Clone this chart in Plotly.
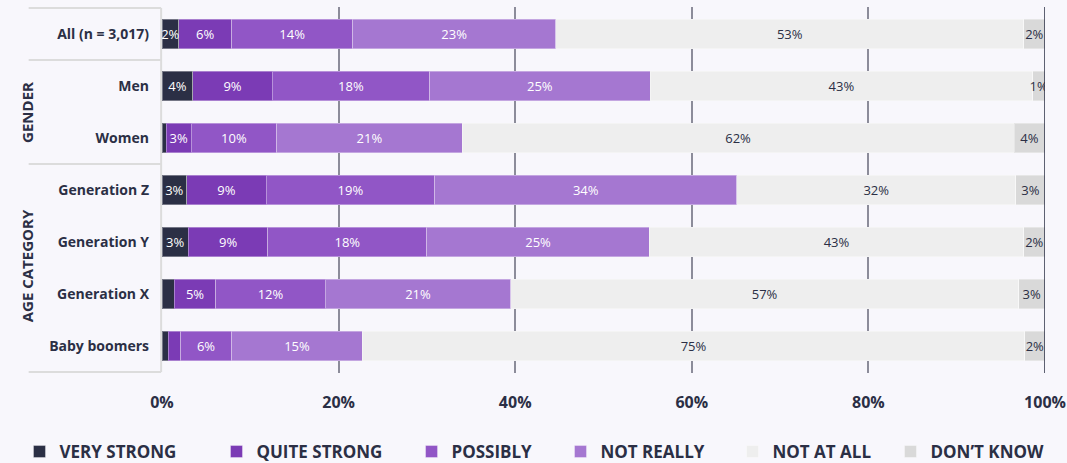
import plotly.graph_objects as go

categories = ["All (n = 3,017)", "Men", "Women", "Generation Z", "Generation Y", "Generation X", "Baby boomers"]
series_names = ["VERY STRONG", "QUITE STRONG", "POSSIBLY", "NOT REALLY", "NOT AT ALL", "DON\u2019T KNOW"]

very_strong = [1.9, 3.5, 0.5, 2.8, 3.0, 1.4, 0.7]
quite_strong = [6.0, 9.0, 2.8, 9.0, 9.0, 4.7, 1.4]
possibly = [13.7, 17.8, 9.7, 19.1, 18.0, 12.4, 5.8]
not_really = [23.0, 25.0, 21.0, 34.2, 25.2, 21.0, 14.8]
not_at_all = [53.0, 43.3, 62.5, 31.6, 42.4, 57.5, 75.0]
dont_know = [2.4, 1.4, 3.5, 3.3, 2.4, 3.0, 2.3]

labels_very_strong = ["2%", "4%", "", "3%", "3%", "", ""]
labels_quite_strong = ["6%", "9%", "3%", "9%", "9%", "5%", ""]
labels_possibly = ["14%", "18%", "10%", "19%", "18%", "12%", "6%"]
labels_not_really = ["23%", "25%", "21%", "34%", "25%", "21%", "15%"]
labels_not_at_all = ["53%", "43%", "62%", "32%", "43%", "57%", "75%"]
labels_dont_know = ["2%", "1%", "4%", "3%", "2%", "3%", "2%"]

x_ticks = [0, 20, 40, 60, 80, 100]
x_tick_labels = ["0%", "20%", "40%", "60%", "80%", "100%"]

colors = ["#2b2f45", "#7b3bb5", "#9156c6", "#a577d1", "#eeeeee", "#d9d9d9"]
text_colors = ["#ffffff", "#ffffff", "#ffffff", "#ffffff", "#2b2f45", "#2b2f45"]

values = [very_strong, quite_strong, possibly, not_really, not_at_all, dont_know]
texts = [labels_very_strong, labels_quite_strong, labels_possibly, labels_not_really, labels_not_at_all, labels_dont_know]

FONT = "Open Sans"
DARK = "#2b2f45"
BG = "#f8f7fc"

legend_ids = ["legend", "legend2", "legend3", "legend4", "legend5", "legend6"]
legend_x = [-0.1614, 0.0617, 0.2826, 0.4513, 0.6461, 0.8250]

fig = go.Figure()
for name, vals, txt, col, tcol, lid in zip(series_names, values, texts, colors, text_colors, legend_ids):
    fig.add_trace(go.Bar(
        name=name,
        y=categories,
        x=vals,
        orientation="h",
        marker=dict(color=col, line=dict(color="rgba(255,255,255,0.35)", width=1)),
        text=txt,
        textposition="inside",
        insidetextanchor="middle",
        textangle=0,
        textfont=dict(family=FONT, size=13, color=tcol),
        hoverinfo="skip",
        legend=lid,
    ))

line_col = "#dcdcdc"
shapes = []
for yv in [-0.5, 0.5, 2.5, 6.5]:
    shapes.append(dict(type="line", xref="paper", yref="y", x0=-0.151, x1=-0.001,
                       y0=yv, y1=yv, line=dict(color=line_col, width=2), layer="below"))
shapes.append(dict(type="line", xref="paper", yref="y", x0=-0.001, x1=-0.001,
                   y0=-0.5, y1=6.5, line=dict(color=line_col, width=2), layer="below"))
shapes.append(dict(type="line", xref="x", yref="paper", x0=100, x1=100, y0=0, y1=1,
                   line=dict(color=DARK, width=1.5)))

annotations = [
    dict(text="<b>GENDER</b>", xref="paper", yref="y", x=-0.153, y=1.5, textangle=-90,
         xanchor="center", yanchor="middle",
         showarrow=False, font=dict(family=FONT, size=15, color=DARK)),
    dict(text="<b>AGE CATEGORY</b>", xref="paper", yref="y", x=-0.153, y=4.45, textangle=-90,
         xanchor="center", yanchor="middle",
         showarrow=False, font=dict(family=FONT, size=15, color=DARK)),
]

legend_common = dict(
    orientation="h",
    xanchor="left",
    y=-0.2158, yanchor="middle",
    font=dict(family=FONT, size=17, color=DARK, weight="bold"),
    bgcolor="rgba(0,0,0,0)",
)
legends = {}
for lid, lx in zip(legend_ids, legend_x):
    legends[lid] = dict(legend_common, x=lx)

fig.update_layout(
    barmode="stack",
    bargap=0.44,
    width=1067,
    height=463,
    margin=dict(l=162, r=22, t=7, b=90, autoexpand=False),
    paper_bgcolor=BG,
    plot_bgcolor=BG,
    font=dict(family=FONT, color=DARK),
    shapes=shapes,
    annotations=annotations,
    uniformtext=dict(minsize=13, mode="show"),
    showlegend=True,
    xaxis=dict(
        range=[0, 100],
        tickvals=x_ticks,
        ticktext=x_tick_labels,
        showgrid=True,
        gridcolor="#8c8c9a",
        gridwidth=2,
        zeroline=False,
        showline=False,
        tickfont=dict(family=FONT, size=16, color=DARK, weight="bold"),
        ticklabelstandoff=18,
        automargin=False,
        fixedrange=True,
    ),
    yaxis=dict(
        categoryorder="array",
        categoryarray=categories,
        autorange="reversed",
        showgrid=False,
        zeroline=False,
        showline=False,
        tickfont=dict(family=FONT, size=14, color=DARK, weight="bold"),
        ticklabelstandoff=12,
        automargin=False,
        fixedrange=True,
    ),
    **legends,
)

fig.write_html("out.html", config={"displayModeBar": False},
               post_script="document.body.style.margin='0';document.body.style.background='%s';" % BG)
